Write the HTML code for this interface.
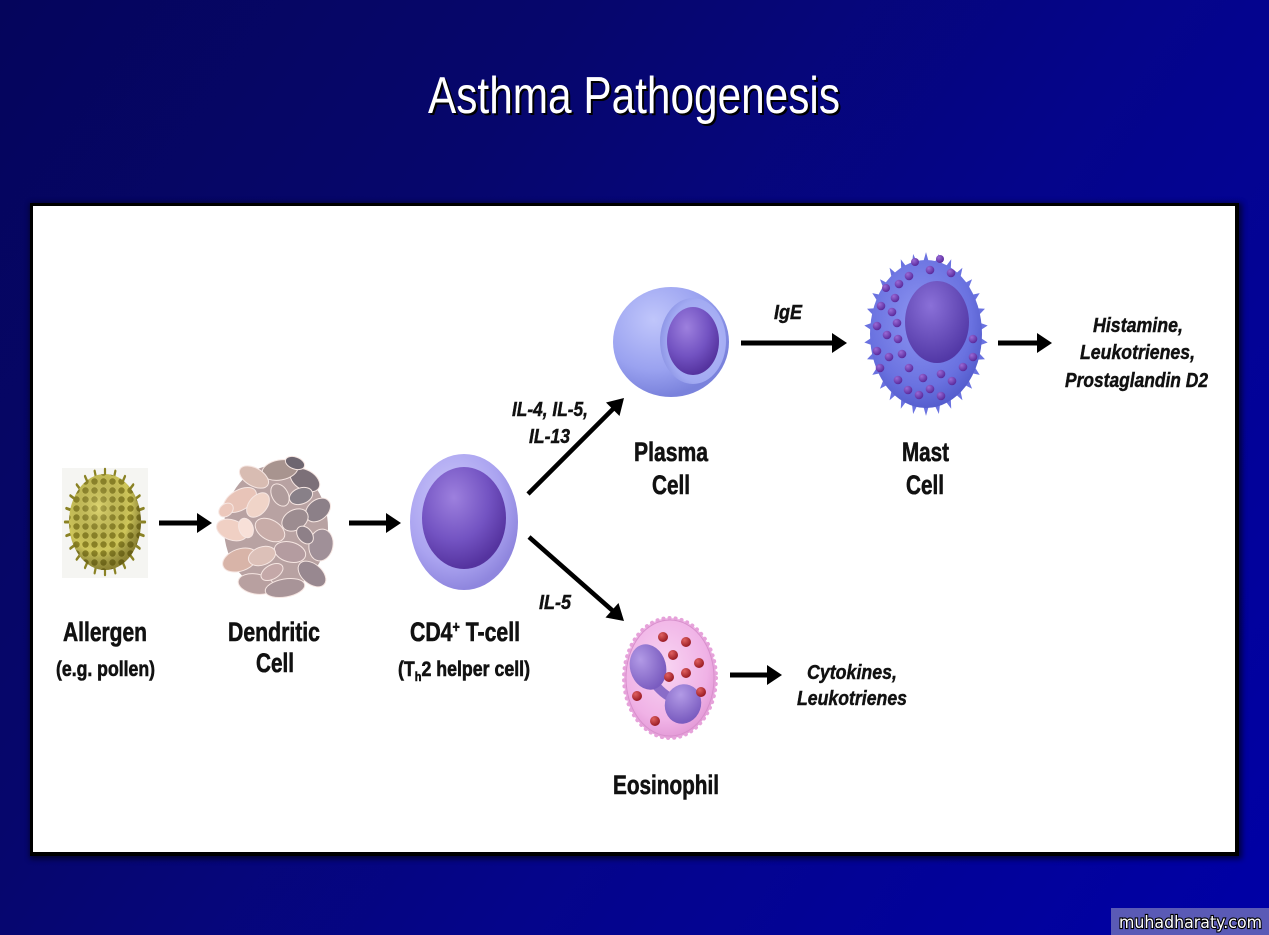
<!DOCTYPE html>
<html><head><meta charset="utf-8"><style>
html,body{margin:0;padding:0;width:1269px;height:935px;overflow:hidden;}
body{background:linear-gradient(125deg,#05055c 0%,#06066c 30%,#05058a 60%,#0000a6 100%);}
svg{position:absolute;left:0;top:0;}
.lb{font-family:"Liberation Sans Narrow","Liberation Sans",sans-serif;font-weight:bold;fill:#111;stroke:#111;stroke-width:0.6;}
.it{font-family:"Liberation Sans Narrow","Liberation Sans",sans-serif;font-weight:bold;font-style:italic;fill:#111;stroke:#111;stroke-width:0.45;}
</style></head><body>
<svg width="1269" height="935" viewBox="0 0 1269 935" xmlns="http://www.w3.org/2000/svg">
<defs>
  <radialGradient id="tOut" cx="40%" cy="35%" r="65%">
    <stop offset="0" stop-color="#cdc9fa"/><stop offset="0.7" stop-color="#aaa3f0"/><stop offset="1" stop-color="#8f86de"/>
  </radialGradient>
  <radialGradient id="nuc" cx="38%" cy="30%" r="70%">
    <stop offset="0" stop-color="#9d80de"/><stop offset="0.6" stop-color="#7353c2"/><stop offset="1" stop-color="#55339f"/>
  </radialGradient>
  <radialGradient id="pOut" cx="35%" cy="30%" r="70%">
    <stop offset="0" stop-color="#c0c6fb"/><stop offset="0.65" stop-color="#9aa2f0"/><stop offset="1" stop-color="#7a82dc"/>
  </radialGradient>
  <radialGradient id="pCav" cx="60%" cy="50%" r="60%">
    <stop offset="0" stop-color="#b4bbf8"/><stop offset="0.8" stop-color="#a2aaf2"/><stop offset="1" stop-color="#8e96e6"/>
  </radialGradient>
  <radialGradient id="mOut" cx="45%" cy="40%" r="65%">
    <stop offset="0" stop-color="#8e96f2"/><stop offset="0.7" stop-color="#6a72e0"/><stop offset="1" stop-color="#4f57c8"/>
  </radialGradient>
  <radialGradient id="mNuc" cx="40%" cy="30%" r="70%">
    <stop offset="0" stop-color="#8a70d8"/><stop offset="1" stop-color="#5238a6"/>
  </radialGradient>
  <radialGradient id="eOut" cx="45%" cy="40%" r="65%">
    <stop offset="0" stop-color="#f8d4f2"/><stop offset="0.7" stop-color="#f0b2e6"/><stop offset="1" stop-color="#df92d2"/>
  </radialGradient>
  <radialGradient id="eNuc" cx="35%" cy="30%" r="70%">
    <stop offset="0" stop-color="#b29ae6"/><stop offset="1" stop-color="#7a5cc0"/>
  </radialGradient>
  <radialGradient id="gran" cx="35%" cy="30%" r="70%">
    <stop offset="0" stop-color="#e06060"/><stop offset="1" stop-color="#9a1c24"/>
  </radialGradient>
  <radialGradient id="mg" cx="35%" cy="30%" r="70%">
    <stop offset="0" stop-color="#9a6ad6"/><stop offset="1" stop-color="#5a2a9c"/>
  </radialGradient>
  <radialGradient id="polShade" cx="40%" cy="35%" r="65%">
    <stop offset="0" stop-color="#fff8a0" stop-opacity="0.35"/><stop offset="0.7" stop-color="#000" stop-opacity="0"/><stop offset="1" stop-color="#3a3000" stop-opacity="0.45"/>
  </radialGradient>
  <pattern id="pol" width="9" height="9" patternUnits="userSpaceOnUse">
    <rect width="9" height="9" fill="#cfc65a"/><circle cx="4.5" cy="4.5" r="3.2" fill="#8e8526"/>
  </pattern>
  <filter id="sh" x="-5%" y="-5%" width="110%" height="110%"><feGaussianBlur stdDeviation="3"/></filter>
</defs>

<!-- Title -->
<text x="430" y="115" font-family="'Liberation Sans Narrow','Liberation Sans',sans-serif" font-size="52" fill="#000" textLength="412" lengthAdjust="spacingAndGlyphs">Asthma Pathogenesis</text>
<text x="428" y="113" font-family="'Liberation Sans Narrow','Liberation Sans',sans-serif" font-size="52" fill="#fff" textLength="412" lengthAdjust="spacingAndGlyphs">Asthma Pathogenesis</text>

<!-- Panel -->
<rect x="30" y="203" width="1212" height="656" fill="#000" opacity="0.6" filter="url(#sh)"/>
<rect x="30" y="203" width="1209" height="653" fill="#000"/>
<rect x="33" y="206" width="1202" height="646" fill="#fff"/>

<!-- Pollen -->
<rect x="62" y="468" width="86" height="110" fill="#f5f5f2"/>
<g transform="translate(105,522) scale(1,1.32)" stroke="#8a8224" stroke-width="2.2" stroke-linecap="round">
  <line x1="0" y1="-35" x2="0" y2="-40" transform="rotate(0)"/><line x1="0" y1="-35" x2="0" y2="-40" transform="rotate(15)"/>
  <line x1="0" y1="-35" x2="0" y2="-40" transform="rotate(30)"/><line x1="0" y1="-35" x2="0" y2="-40" transform="rotate(45)"/>
  <line x1="0" y1="-35" x2="0" y2="-40" transform="rotate(60)"/><line x1="0" y1="-35" x2="0" y2="-40" transform="rotate(75)"/>
  <line x1="0" y1="-35" x2="0" y2="-40" transform="rotate(90)"/><line x1="0" y1="-35" x2="0" y2="-40" transform="rotate(105)"/>
  <line x1="0" y1="-35" x2="0" y2="-40" transform="rotate(120)"/><line x1="0" y1="-35" x2="0" y2="-40" transform="rotate(135)"/>
  <line x1="0" y1="-35" x2="0" y2="-40" transform="rotate(150)"/><line x1="0" y1="-35" x2="0" y2="-40" transform="rotate(165)"/>
  <line x1="0" y1="-35" x2="0" y2="-40" transform="rotate(180)"/><line x1="0" y1="-35" x2="0" y2="-40" transform="rotate(195)"/>
  <line x1="0" y1="-35" x2="0" y2="-40" transform="rotate(210)"/><line x1="0" y1="-35" x2="0" y2="-40" transform="rotate(225)"/>
  <line x1="0" y1="-35" x2="0" y2="-40" transform="rotate(240)"/><line x1="0" y1="-35" x2="0" y2="-40" transform="rotate(255)"/>
  <line x1="0" y1="-35" x2="0" y2="-40" transform="rotate(270)"/><line x1="0" y1="-35" x2="0" y2="-40" transform="rotate(285)"/>
  <line x1="0" y1="-35" x2="0" y2="-40" transform="rotate(300)"/><line x1="0" y1="-35" x2="0" y2="-40" transform="rotate(315)"/>
  <line x1="0" y1="-35" x2="0" y2="-40" transform="rotate(330)"/><line x1="0" y1="-35" x2="0" y2="-40" transform="rotate(345)"/>
</g>
<ellipse cx="105" cy="522" rx="36" ry="48" fill="url(#pol)"/>
<ellipse cx="105" cy="522" rx="36" ry="48" fill="url(#polShade)"/>

<!-- Dendritic cell -->
<g>
  <ellipse cx="276" cy="528" rx="52" ry="63" fill="#b8a2a2"/>
  <g stroke="#f6e6e2" stroke-width="1">
    <ellipse cx="240" cy="500" rx="18" ry="10" transform="rotate(-30 240 500)" fill="#e8c4b8"/>
    <ellipse cx="232" cy="530" rx="16" ry="10" transform="rotate(20 232 530)" fill="#f0d0c4"/>
    <ellipse cx="240" cy="560" rx="18" ry="11" transform="rotate(-20 240 560)" fill="#d8b4a8"/>
    <ellipse cx="256" cy="584" rx="18" ry="10" transform="rotate(10 256 584)" fill="#b8a0a0"/>
    <ellipse cx="285" cy="588" rx="20" ry="9" transform="rotate(-10 285 588)" fill="#a89498"/>
    <ellipse cx="312" cy="574" rx="16" ry="10" transform="rotate(40 312 574)" fill="#988890"/>
    <ellipse cx="321" cy="545" rx="12" ry="16" transform="rotate(10 321 545)" fill="#a09098"/>
    <ellipse cx="318" cy="510" rx="14" ry="10" transform="rotate(-40 318 510)" fill="#8c8088"/>
    <ellipse cx="305" cy="480" rx="16" ry="10" transform="rotate(30 305 480)" fill="#7c7078"/>
    <ellipse cx="280" cy="470" rx="18" ry="10" transform="rotate(-10 280 470)" fill="#a8948f"/>
    <ellipse cx="254" cy="477" rx="16" ry="9" transform="rotate(30 254 477)" fill="#d8bcb2"/>
    <ellipse cx="258" cy="505" rx="14" ry="9" transform="rotate(-50 258 505)" fill="#f0d4c8"/>
    <ellipse cx="270" cy="530" rx="16" ry="10" transform="rotate(30 270 530)" fill="#c8aca8"/>
    <ellipse cx="295" cy="520" rx="14" ry="10" transform="rotate(-30 295 520)" fill="#9c8c90"/>
    <ellipse cx="290" cy="552" rx="16" ry="10" transform="rotate(15 290 552)" fill="#b49ca0"/>
    <ellipse cx="262" cy="556" rx="14" ry="9" transform="rotate(-20 262 556)" fill="#dcc0b8"/>
    <ellipse cx="280" cy="495" rx="12" ry="8" transform="rotate(60 280 495)" fill="#b09c9c"/>
    <ellipse cx="301" cy="496" rx="12" ry="8" transform="rotate(-20 301 496)" fill="#888088"/>
    <ellipse cx="246" cy="528" rx="10" ry="7" transform="rotate(70 246 528)" fill="#f8e0d8"/>
    <ellipse cx="305" cy="535" rx="10" ry="7" transform="rotate(50 305 535)" fill="#8e8088"/>
    <ellipse cx="272" cy="572" rx="12" ry="7" transform="rotate(-30 272 572)" fill="#c4a8a8"/>
    <ellipse cx="226" cy="510" rx="8" ry="6" transform="rotate(-40 226 510)" fill="#ecc8bc"/>
    <ellipse cx="295" cy="463" rx="10" ry="6" transform="rotate(20 295 463)" fill="#6e6670"/>
  </g>
</g>

<!-- T cell -->
<ellipse cx="464" cy="522" rx="54" ry="68" fill="url(#tOut)"/>
<ellipse cx="464" cy="518" rx="42" ry="51" fill="url(#nuc)"/>

<!-- Plasma cell -->
<ellipse cx="671" cy="342" rx="58" ry="55" fill="url(#pOut)"/>
<ellipse cx="693" cy="341" rx="33" ry="43" fill="url(#pCav)"/>
<ellipse cx="693" cy="341" rx="26" ry="34" fill="url(#nuc)"/>

<!-- Mast cell -->
<g transform="translate(926,334) scale(1,1.32)" fill="#6a72e0">
  <polygon points="-3,-54 3,-54 0,-62" transform="rotate(0)"/>
  <polygon points="-3,-54 3,-54 0,-62" transform="rotate(12)"/><polygon points="-3,-54 3,-54 0,-62" transform="rotate(24)"/>
  <polygon points="-3,-54 3,-54 0,-62" transform="rotate(36)"/><polygon points="-3,-54 3,-54 0,-62" transform="rotate(48)"/>
  <polygon points="-3,-54 3,-54 0,-62" transform="rotate(60)"/><polygon points="-3,-54 3,-54 0,-62" transform="rotate(72)"/>
  <polygon points="-3,-54 3,-54 0,-62" transform="rotate(84)"/><polygon points="-3,-54 3,-54 0,-62" transform="rotate(96)"/>
  <polygon points="-3,-54 3,-54 0,-62" transform="rotate(108)"/><polygon points="-3,-54 3,-54 0,-62" transform="rotate(120)"/>
  <polygon points="-3,-54 3,-54 0,-62" transform="rotate(132)"/><polygon points="-3,-54 3,-54 0,-62" transform="rotate(144)"/>
  <polygon points="-3,-54 3,-54 0,-62" transform="rotate(156)"/><polygon points="-3,-54 3,-54 0,-62" transform="rotate(168)"/>
  <polygon points="-3,-54 3,-54 0,-62" transform="rotate(180)"/><polygon points="-3,-54 3,-54 0,-62" transform="rotate(192)"/>
  <polygon points="-3,-54 3,-54 0,-62" transform="rotate(204)"/><polygon points="-3,-54 3,-54 0,-62" transform="rotate(216)"/>
  <polygon points="-3,-54 3,-54 0,-62" transform="rotate(228)"/><polygon points="-3,-54 3,-54 0,-62" transform="rotate(240)"/>
  <polygon points="-3,-54 3,-54 0,-62" transform="rotate(252)"/><polygon points="-3,-54 3,-54 0,-62" transform="rotate(264)"/>
  <polygon points="-3,-54 3,-54 0,-62" transform="rotate(276)"/><polygon points="-3,-54 3,-54 0,-62" transform="rotate(288)"/>
  <polygon points="-3,-54 3,-54 0,-62" transform="rotate(300)"/><polygon points="-3,-54 3,-54 0,-62" transform="rotate(312)"/>
  <polygon points="-3,-54 3,-54 0,-62" transform="rotate(324)"/><polygon points="-3,-54 3,-54 0,-62" transform="rotate(336)"/>
  <polygon points="-3,-54 3,-54 0,-62" transform="rotate(348)"/>
</g>
<ellipse cx="926" cy="334" rx="56" ry="74" fill="url(#mOut)"/>
<ellipse cx="937" cy="322" rx="32" ry="41" fill="url(#mNuc)"/>
<g fill="url(#mg)">
  <circle cx="909" cy="276" r="4.3"/><circle cx="930" cy="270" r="4.3"/><circle cx="951" cy="273" r="4.3"/>
  <circle cx="899" cy="284" r="4.3"/><circle cx="895" cy="298" r="4.3"/><circle cx="881" cy="306" r="4.3"/>
  <circle cx="892" cy="312" r="4.3"/><circle cx="897" cy="323" r="4.3"/><circle cx="877" cy="326" r="4.3"/>
  <circle cx="887" cy="335" r="4.3"/><circle cx="898" cy="339" r="4.3"/><circle cx="877" cy="351" r="4.3"/>
  <circle cx="889" cy="357" r="4.3"/><circle cx="902" cy="354" r="4.3"/><circle cx="880" cy="368" r="4.3"/>
  <circle cx="909" cy="368" r="4.3"/><circle cx="973" cy="339" r="4.3"/><circle cx="973" cy="357" r="4.3"/>
  <circle cx="963" cy="367" r="4.3"/><circle cx="898" cy="380" r="4.3"/><circle cx="923" cy="378" r="4.3"/>
  <circle cx="941" cy="374" r="4.3"/><circle cx="952" cy="381" r="4.3"/><circle cx="908" cy="390" r="4.3"/>
  <circle cx="919" cy="395" r="4.3"/><circle cx="930" cy="389" r="4.3"/><circle cx="941" cy="396" r="4.3"/>
  <circle cx="915" cy="262" r="4"/><circle cx="940" cy="259" r="4"/><circle cx="886" cy="288" r="4"/>
</g>

<!-- Eosinophil -->
<ellipse cx="670" cy="678" rx="46" ry="60" fill="url(#eOut)" stroke="#e6a2da" stroke-width="4" stroke-dasharray="0.1 6" stroke-linecap="round"/>
<ellipse cx="670" cy="678" rx="44" ry="58" fill="none" stroke="#d890cc" stroke-width="1"/>
<path d="M652 680 Q662 695 676 700" stroke="#8a6cc8" stroke-width="9" fill="none" stroke-linecap="round"/>
<ellipse cx="648" cy="667" rx="18" ry="23" transform="rotate(-15 648 667)" fill="url(#eNuc)"/>
<ellipse cx="683" cy="704" rx="18" ry="20" transform="rotate(20 683 704)" fill="url(#eNuc)"/>
<g fill="url(#gran)">
  <circle cx="663" cy="637" r="5"/><circle cx="686" cy="642" r="5"/><circle cx="673" cy="655" r="5"/>
  <circle cx="699" cy="663" r="5"/><circle cx="686" cy="673" r="5"/><circle cx="669" cy="677" r="5"/>
  <circle cx="701" cy="692" r="5"/><circle cx="637" cy="696" r="5"/><circle cx="655" cy="721" r="5"/>
</g>

<!-- Arrows -->
<g stroke="#000" stroke-width="5" fill="none">
  <line x1="159" y1="523" x2="199" y2="523"/>
  <line x1="349" y1="523" x2="388" y2="523"/>
  <line x1="741" y1="343" x2="834" y2="343"/>
  <line x1="998" y1="343" x2="1039" y2="343"/>
  <line x1="730" y1="675" x2="769" y2="675"/>
  <line x1="528" y1="494" x2="614" y2="408" stroke-width="4.5"/>
  <line x1="529" y1="537" x2="613" y2="611" stroke-width="4.5"/>
</g>
<g fill="#000">
  <polygon points="212,523 197,513 197,533"/>
  <polygon points="401,523 386,513 386,533"/>
  <polygon points="847,343 832,333 832,353"/>
  <polygon points="1052,343 1037,333 1037,353"/>
  <polygon points="782,675 767,665 767,685"/>
  <polygon points="624,398 619.5,416 606,402.5"/>
  <polygon points="624,621 605.5,617.5 618.5,603"/>
</g>

<!-- Labels -->
<g class="lb" font-size="27">
  <text x="63" y="641" textLength="84" lengthAdjust="spacingAndGlyphs">Allergen</text>
  <text x="228" y="641" textLength="92" lengthAdjust="spacingAndGlyphs">Dendritic</text>
  <text x="256" y="672" textLength="38" lengthAdjust="spacingAndGlyphs">Cell</text>
  <text x="410" y="641" textLength="110" lengthAdjust="spacingAndGlyphs">CD4<tspan font-size="16" dy="-9">+</tspan><tspan dy="9"> T-cell</tspan></text>
  <text x="634" y="461" textLength="74" lengthAdjust="spacingAndGlyphs">Plasma</text>
  <text x="652" y="494" textLength="38" lengthAdjust="spacingAndGlyphs">Cell</text>
  <text x="902" y="461" textLength="47" lengthAdjust="spacingAndGlyphs">Mast</text>
  <text x="906" y="494" textLength="38" lengthAdjust="spacingAndGlyphs">Cell</text>
  <text x="613" y="794" textLength="106" lengthAdjust="spacingAndGlyphs">Eosinophil</text>
</g>
<g class="lb" font-size="21">
  <text x="56" y="676" textLength="99" lengthAdjust="spacingAndGlyphs">(e.g. pollen)</text>
  <text x="398" y="676" textLength="132" lengthAdjust="spacingAndGlyphs">(T<tspan font-size="13" dy="5">h</tspan><tspan dy="-5">2 helper cell)</tspan></text>
</g>
<g class="it" font-size="20">
  <text x="512" y="416" textLength="76" lengthAdjust="spacingAndGlyphs">IL-4, IL-5,</text>
  <text x="529" y="443" textLength="41" lengthAdjust="spacingAndGlyphs">IL-13</text>
  <text x="539" y="609" textLength="32" lengthAdjust="spacingAndGlyphs">IL-5</text>
  <text x="774" y="319" textLength="28" lengthAdjust="spacingAndGlyphs">IgE</text>
  <text x="1093" y="332" textLength="90" lengthAdjust="spacingAndGlyphs">Histamine,</text>
  <text x="1080" y="359" textLength="115" lengthAdjust="spacingAndGlyphs">Leukotrienes,</text>
  <text x="1065" y="387" textLength="143" lengthAdjust="spacingAndGlyphs">Prostaglandin D2</text>
  <text x="807" y="679" textLength="90" lengthAdjust="spacingAndGlyphs">Cytokines,</text>
  <text x="797" y="705" textLength="110" lengthAdjust="spacingAndGlyphs">Leukotrienes</text>
</g>

<!-- Watermark -->
<rect x="1111" y="908" width="158" height="27" fill="#5a5ab6"/>
<text x="1119" y="928" font-family="'DejaVu Sans','Liberation Sans',sans-serif" font-size="17" fill="#fff" stroke="#000" stroke-width="2.2" paint-order="stroke" textLength="143" lengthAdjust="spacingAndGlyphs">muhadharaty.com</text>
</svg>
</body></html>
